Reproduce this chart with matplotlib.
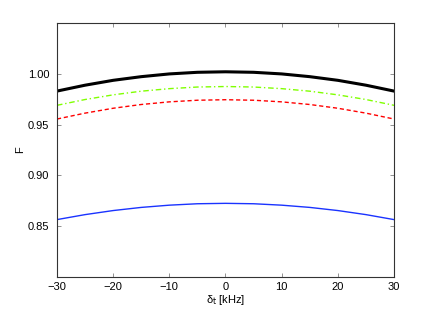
import numpy as np
import matplotlib
matplotlib.use('Agg')
import matplotlib.pyplot as plt
from matplotlib.ticker import FormatStrFormatter

plt.rcParams['font.family'] = ['Liberation Sans', 'DejaVu Sans']
plt.rcParams['mathtext.fontset'] = 'custom'
plt.rcParams['mathtext.rm'] = 'Liberation Sans'
plt.rcParams['mathtext.it'] = 'Liberation Sans'

# detuning in kHz
delta = [-30, -25, -20, -15, -10, -5, 0, 5, 10, 15, 20, 25, 30]

# fidelity curves
F_black = [0.983, 0.9888, 0.9936, 0.9972, 0.9999, 1.0015, 1.002,
           1.0015, 0.9999, 0.9972, 0.9936, 0.9888, 0.983]
F_green = [0.969, 0.9747, 0.9793, 0.9829, 0.9854, 0.9870, 0.9875,
           0.9870, 0.9854, 0.9829, 0.9793, 0.9747, 0.969]
F_red = [0.9555, 0.9613, 0.9661, 0.9698, 0.9724, 0.9740, 0.9745,
         0.9740, 0.9724, 0.9698, 0.9661, 0.9613, 0.9555]
F_blue = [0.8565, 0.8614, 0.8654, 0.8685, 0.8707, 0.8721, 0.8725,
          0.8721, 0.8707, 0.8685, 0.8654, 0.8614, 0.8565]

xticks = [-30, -20, -10, 0, 10, 20, 30]
yticks = [0.85, 0.90, 0.95, 1.00]

fig = plt.figure(figsize=(4.36, 3.12), dpi=100)
ax = fig.add_axes([0.1307, 0.1122, 0.7730, 0.8140])

ax.plot(delta, F_black, color='k', lw=2.2)
ax.plot(delta, F_green, color='#80ff00', lw=1.0, ls='-.', dashes=(4, 2, 1, 2))
ax.plot(delta, F_red, color='r', lw=1.0, ls='--', dashes=(3, 2))
ax.plot(delta, F_blue, color='#1a33ff', lw=1.0)

ax.set_xlim(-30, 30)
ax.set_ylim(0.80, 1.05)
ax.set_xticks(xticks)
ax.set_yticks(yticks)
ax.yaxis.set_major_formatter(FormatStrFormatter('%.2f'))
ax.tick_params(direction='in', length=3, width=0.6, color='0.5', labelsize=8,
               top=True, right=True)
ax.tick_params(axis='x', pad=3.5)
ax.tick_params(axis='y', pad=5.5)
for s in ax.spines.values():
    s.set_linewidth(0.8)
    s.set_color('0.2')

ax.set_xlabel(r'δ$_{\mathsf{t}}$ [kHz]', fontsize=8, labelpad=1)
ax.set_ylabel('F', fontsize=8, labelpad=2)

fig.savefig('out.png', dpi=100)
